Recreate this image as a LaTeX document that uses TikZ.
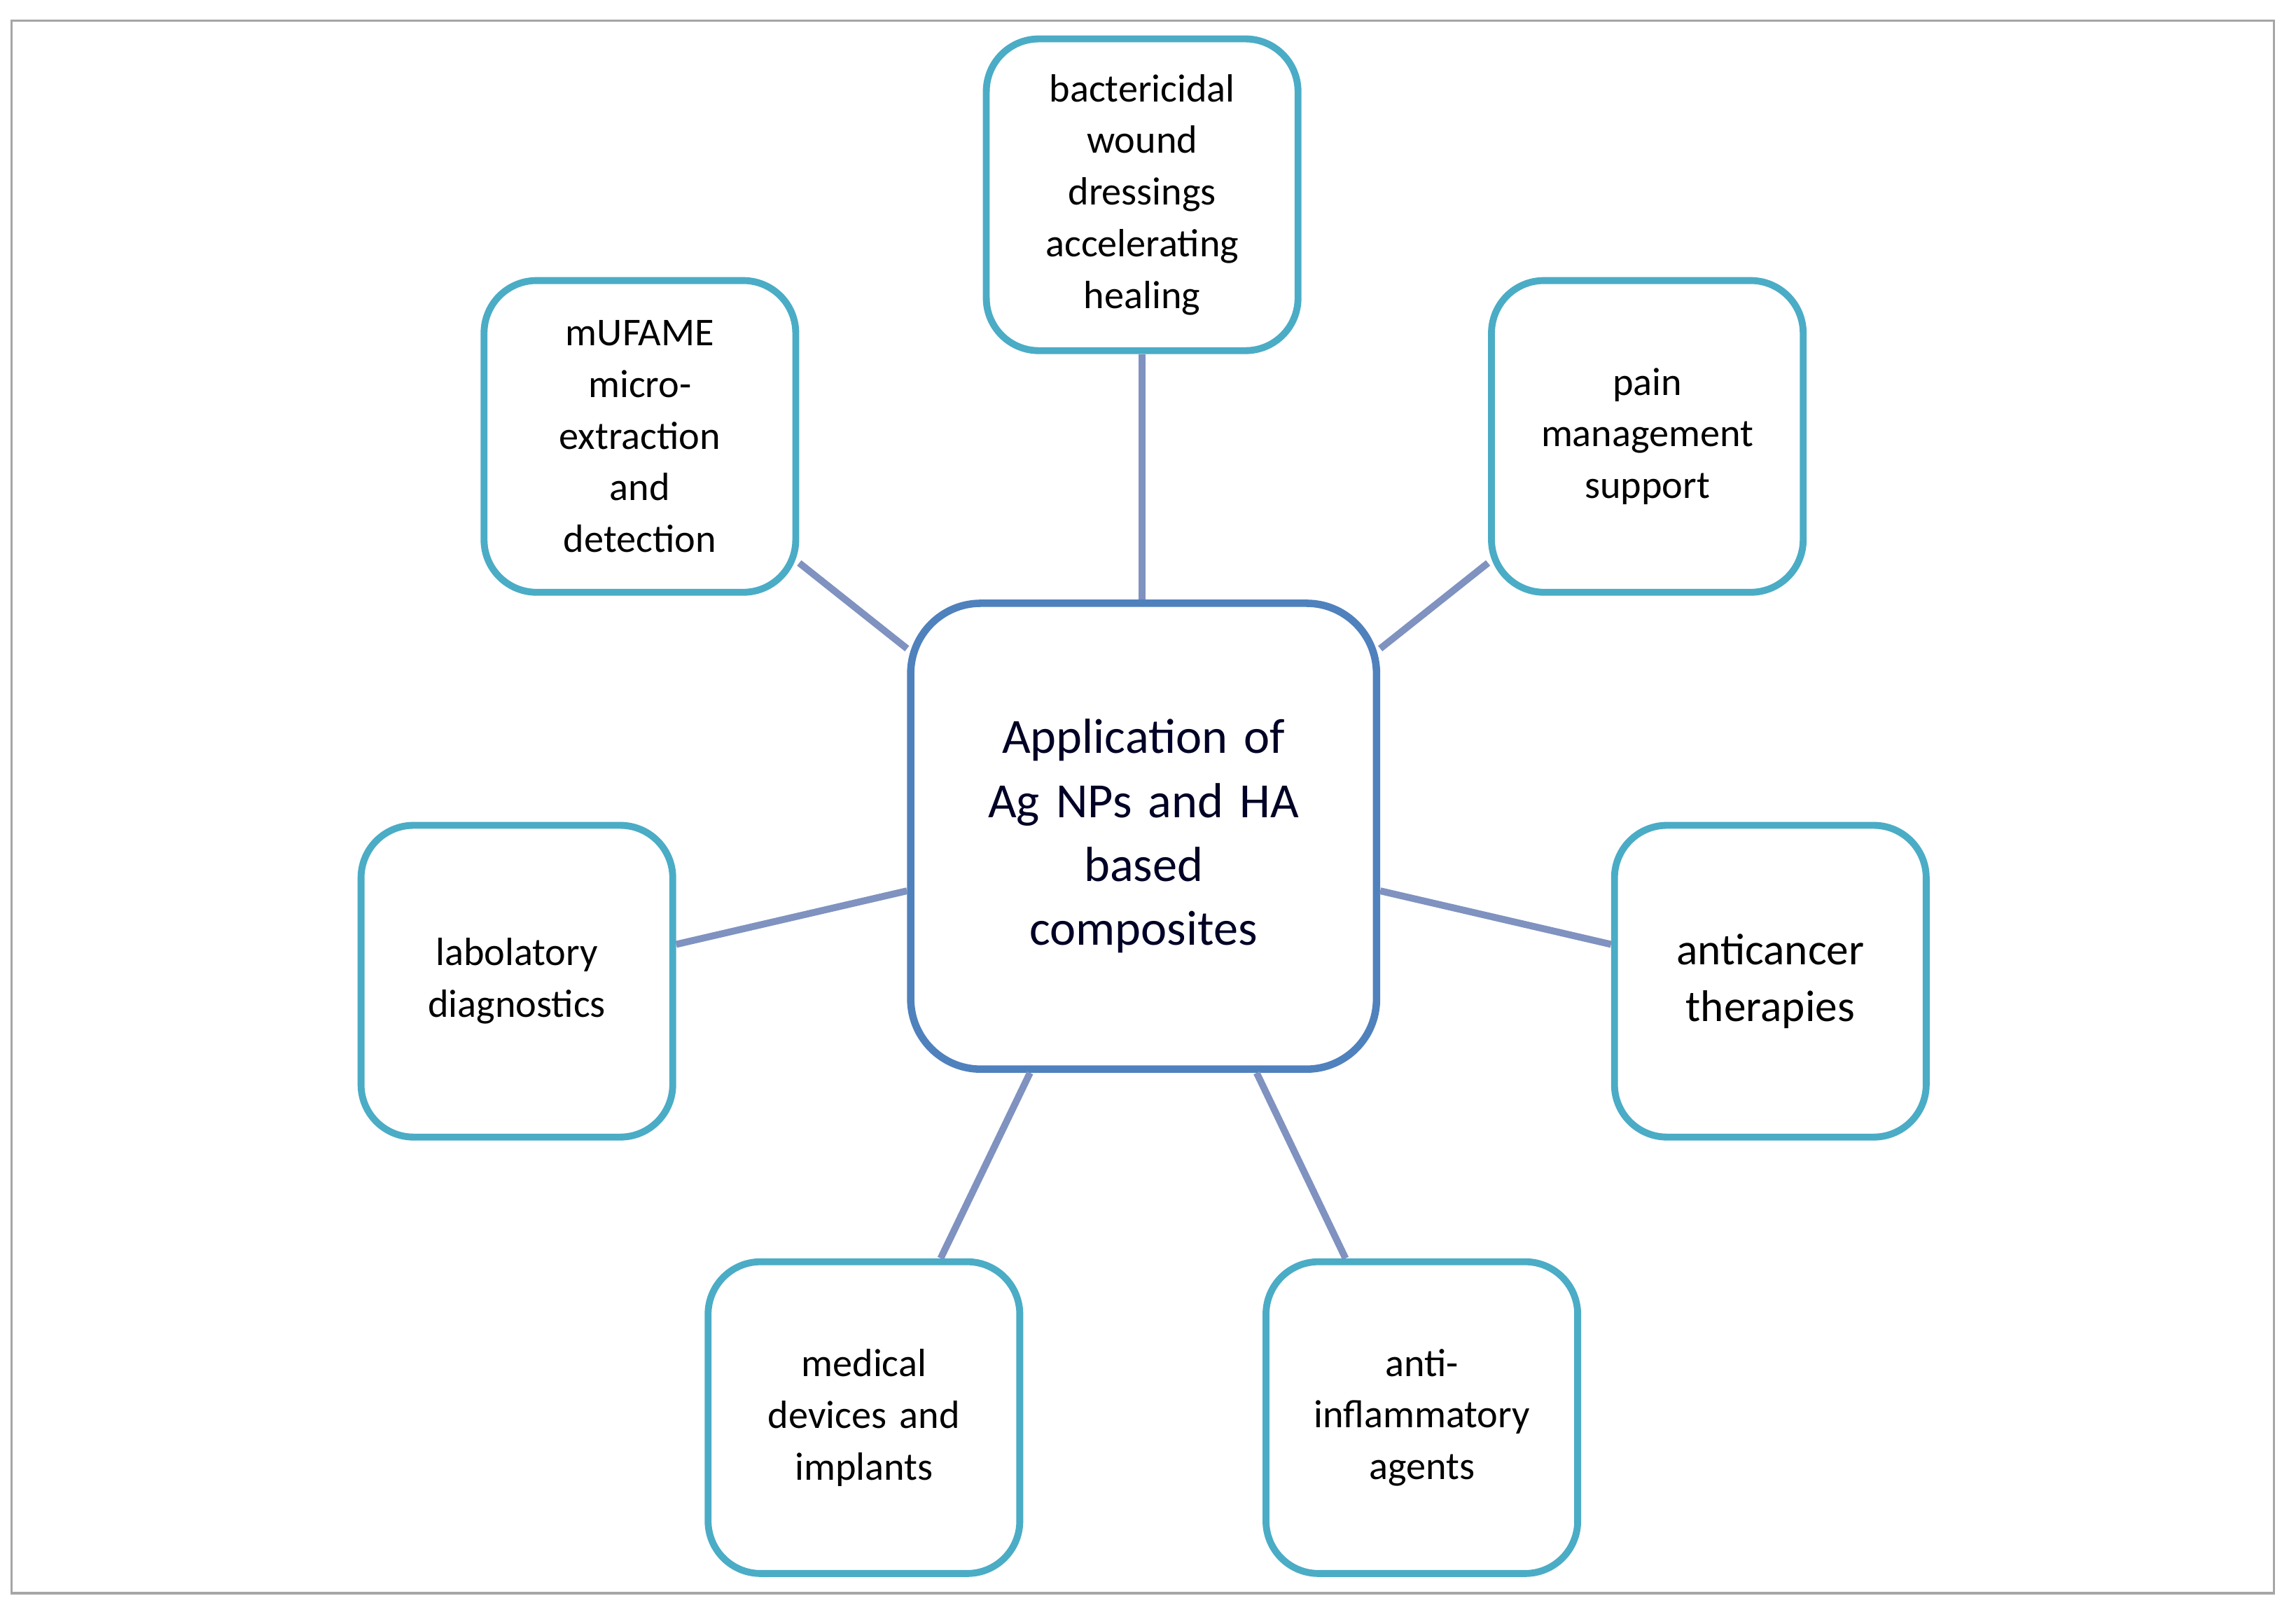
\documentclass[tikz,border=0pt]{standalone}
\usepackage{fontspec}
\setmainfont{Carlito}
\definecolor{teal}{RGB}{75,172,198}
\definecolor{cblue}{RGB}{79,129,189}
\definecolor{conn}{RGB}{127,146,192}
\begin{document}
\begin{tikzpicture}[x=0.02091cm,y=-0.02091cm,
  box/.style={draw=teal,line width=2.8pt,rounded corners=0.75cm,minimum width=4.45cm,minimum height=4.45cm,align=center,font=\fontsize{16}{21}\selectfont,text width=4cm,fill=white},
  hub/.style={draw=cblue,line width=3pt,rounded corners=1cm,minimum width=6.65cm,minimum height=6.65cm,align=center,font=\fontsize{20}{26}\selectfont,text width=6cm,text=black!85!blue,fill=white},
  conn/.style={draw=conn,line width=2.8pt}]
\useasboundingbox (0,0) rectangle (1568,1104);
\draw[gray!70,line width=1pt] (8,14) rectangle (1553,1088);
\node[hub] (c) at (781,571) {Application of\\Ag NPs and HA\\based\\composites};
\node[box] (t) at (780,133) {bactericidal\\wound\\dressings\\accelerating\\healing};
\node[box] (m) at (437,298) {mUFAME\\micro-\\extraction\\and\\detection};
\node[box] (p) at (1125,298) {pain\\management\\support};
\node[box] (l) at (353,670) {labolatory\\diagnostics};
\node[box,font=\fontsize{18}{23}\selectfont] (a) at (1209,670) {anticancer\\therapies};
\node[box] (d) at (590,968) {medical\\devices and\\implants};
\node[box] (i) at (971,968) {anti-\\inflammatory\\agents};
\begin{scope}[on background layer/.style={}]
\end{scope}
\draw[conn] (t.south) -- (c.north -| t.south);
\draw[conn] (m) -- (c);
\draw[conn] (p) -- (c);
\draw[conn] (l) -- (c);
\draw[conn] (a) -- (c);
\draw[conn] (d) -- (c);
\draw[conn] (i) -- (c);
\end{tikzpicture}
\end{document}
